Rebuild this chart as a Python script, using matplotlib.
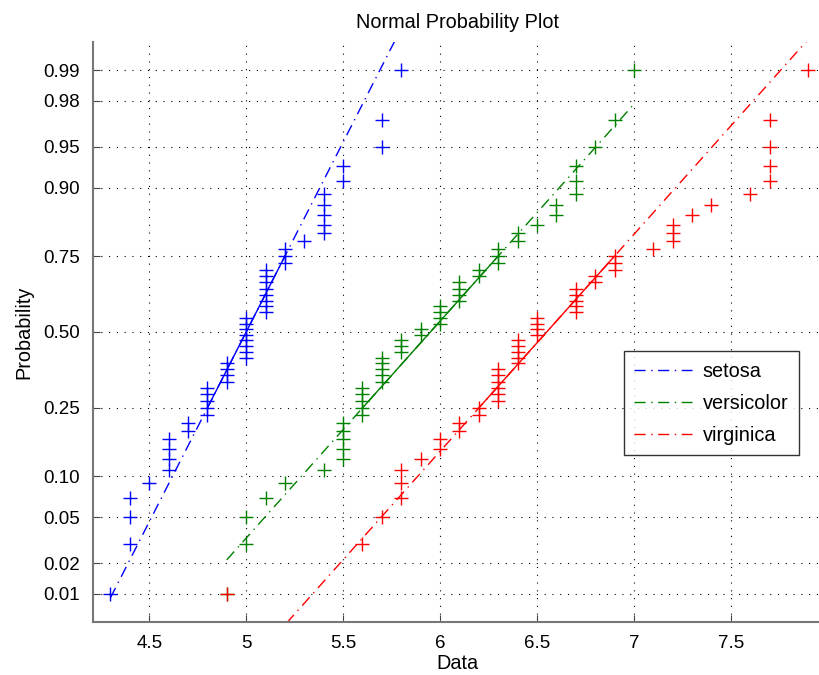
import numpy as np
import matplotlib
matplotlib.use("Agg")
import matplotlib.pyplot as plt
from statistics import NormalDist

plt.rcParams['font.family'] = ['Liberation Sans', 'DejaVu Sans']

# iris sepal length per species
setosa = [5.1, 4.9, 4.7, 4.6, 5.0, 5.4, 4.6, 5.0, 4.4, 4.9, 5.4, 4.8, 4.8, 4.3, 5.8, 5.7, 5.4,
          5.1, 5.7, 5.1, 5.4, 5.1, 4.6, 5.1, 4.8, 5.0, 5.0, 5.2, 5.2, 4.7, 4.8, 5.4, 5.2, 5.5,
          4.9, 5.0, 5.5, 4.9, 4.4, 5.1, 5.0, 4.5, 4.4, 5.0, 5.1, 4.8, 5.1, 4.6, 5.3, 5.0]
versicolor = [7.0, 6.4, 6.9, 5.5, 6.5, 5.7, 6.3, 4.9, 6.6, 5.2, 5.0, 5.9, 6.0, 6.1, 5.6, 6.7, 5.6,
              5.8, 6.2, 5.6, 5.9, 6.1, 6.3, 6.1, 6.4, 6.6, 6.8, 6.7, 6.0, 5.7, 5.5, 5.5, 5.8, 6.0,
              5.4, 6.0, 6.7, 6.3, 5.6, 5.5, 5.5, 6.1, 5.8, 5.0, 5.6, 5.7, 5.7, 6.2, 5.1, 5.7]
virginica = [6.3, 5.8, 7.1, 6.3, 6.5, 7.6, 4.9, 7.3, 6.7, 7.2, 6.5, 6.4, 6.8, 5.7, 5.8, 6.4, 6.5,
             7.7, 7.7, 6.0, 6.9, 5.6, 7.7, 6.3, 6.7, 7.2, 6.2, 6.1, 6.4, 7.2, 7.4, 7.9, 6.4, 6.3,
             6.1, 7.7, 6.3, 6.4, 6.0, 6.9, 6.7, 6.9, 5.8, 6.8, 6.7, 6.7, 6.3, 6.5, 6.2, 5.9]
names = ['setosa', 'versicolor', 'virginica']
colors = ['#0000ff', '#008000', '#ff0000']
prob_ticks = [0.01, 0.02, 0.05, 0.10, 0.25, 0.50, 0.75, 0.90, 0.95, 0.98, 0.99]
prob_labels = ['0.01', '0.02', '0.05', '0.10', '0.25', '0.50', '0.75', '0.90', '0.95', '0.98', '0.99']

nd = NormalDist()
ppf = np.vectorize(nd.inv_cdf)

fig = plt.figure(figsize=(8.2, 6.75), dpi=100)
ax = fig.add_axes([93/820, 1 - 622/675, 729/820, 580/675])

legend_handles = []
for data, name, col in zip([setosa, versicolor, virginica], names, colors):
    x = np.sort(np.array(data))
    n = len(x)
    p = (np.arange(1, n + 1) - 0.5) / n
    y = ppf(p)
    ax.plot(x, y, '+', color=col, markersize=9.5, markeredgewidth=1.0, zorder=3)
    # quartile reference line (matlab-style prctile)
    q1 = x[int(round(n * 0.25 + 0.5)) - 1]
    q3 = x[int(round(n * 0.75 + 0.5)) - 1]
    z1, z3 = nd.inv_cdf(0.25), nd.inv_cdf(0.75)
    slope = (z3 - z1) / (q3 - q1)
    ax.plot([q1, q3], [z1, z3], '-', color=col, linewidth=1.0, zorder=2)
    xa, xb = x.min(), x.max()
    h, = ax.plot([xa, xb], [z1 + slope * (xa - q1), z1 + slope * (xb - q1)],
                 '-.', color=col, linewidth=1.0, dashes=(8, 4, 1, 4), zorder=2)
    legend_handles.append(h)

ax.set_xlim(4.21, 7.97)
ax.set_ylim(nd.inv_cdf(0.005), nd.inv_cdf(0.995))
ax.set_xticks([4.5, 5, 5.5, 6, 6.5, 7, 7.5])
ax.set_xticklabels(['4.5', '5', '5.5', '6', '6.5', '7', '7.5'])
ax.set_yticks(ppf(prob_ticks))
ax.set_yticklabels(prob_labels)
ax.grid(True, color='black', linestyle=(0, (1, 6)), linewidth=0.8)
ax.tick_params(direction='in', length=5, pad=9.5, labelsize=13.5, colors='#444444', labelcolor='black')
for s in ['top', 'right']:
    ax.spines[s].set_visible(False)
for s in ['left', 'bottom']:
    ax.spines[s].set_color('#777777')
    ax.spines[s].set_linewidth(1.5)

ax.set_title('Normal Probability Plot', fontsize=14.3, pad=10)
ax.set_xlabel('Data', fontsize=14.3, labelpad=1)
ax.set_ylabel('Probability', fontsize=14.3, labelpad=7)

leg = ax.legend(legend_handles, names, loc='center left', bbox_to_anchor=(0.728, 0.377),
                borderaxespad=0, fontsize=14.3, frameon=True, fancybox=False, edgecolor='black',
                handlelength=2.9, handletextpad=0.55, borderpad=0.52, labelspacing=0.67)
leg.get_frame().set_linewidth(1.0)

fig.savefig('out.png', dpi=100)
